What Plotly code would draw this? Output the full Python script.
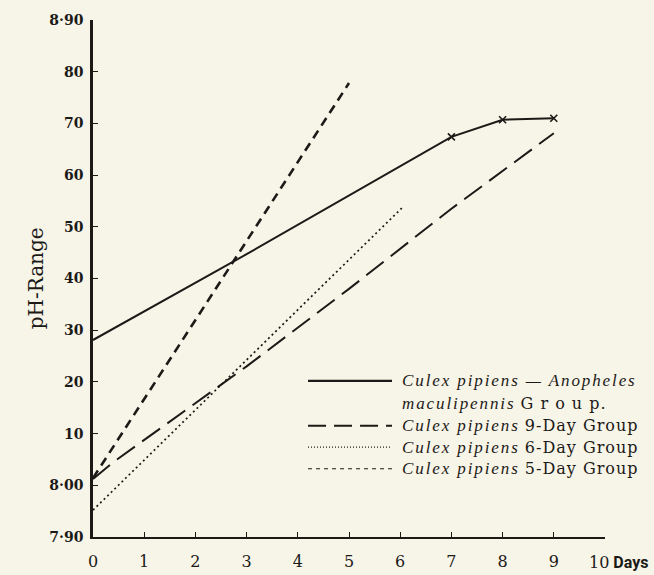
import plotly.graph_objects as go

# pH readings per day for each mosquito group
days_anoph = [0, 3, 7, 8, 9]
ph_anoph = [8.281, 8.447, 8.674, 8.707, 8.710]
marked_days = [7, 8, 9]
marked_ph = [8.674, 8.707, 8.710]

days_9 = [0, 0.4, 3, 5, 7, 9]
ph_9 = [8.012, 8.045, 8.230, 8.380, 8.535, 8.681]

days_6 = [0, 6.05]
ph_6 = [7.952, 8.538]

days_5 = [0, 5.0]
ph_5 = [8.014, 8.778]

y_ticks = [7.90, 8.00, 8.10, 8.20, 8.30, 8.40, 8.50, 8.60, 8.70, 8.80, 8.90]
y_labels = ["7·90", "8·00", "10", "20", "30", "40", "50", "60", "70", "80", "8·90"]
x_ticks = list(range(0, 11))
x_labels = [str(d) for d in x_ticks[:-1]] + [""]   # "10" is drawn together with "Days"

ink = "#1c1a17"
paper_bg = "#f7f4e8"
serif = "DejaVu Serif, Liberation Serif, serif"
ital = ("<span style=\"font-family:'Liberation Serif';font-size:17px;"
        "letter-spacing:1.9px\"><i>{}</i></span>")
roman = "<span style=\"letter-spacing:1px\">{}</span>"

legend_rows = [
    ("solid", 2.2, ital.format("Culex pipiens — Anopheles")),
    (None, 0, ital.format("maculipennis") + " " + roman.format("G r o u p.")),
    ("longdash", 2.0, ital.format("Culex pipiens") + " " + roman.format("9-Day Group")),
    ("dot", 1.3, ital.format("Culex pipiens") + " " + roman.format("6-Day Group")),
    ("dash", 1.0, ital.format("Culex pipiens") + " " + roman.format("5-Day Group")),
]
legend_y = [0.302, 0.259, 0.215, 0.174, 0.132]

fig = go.Figure()
fig.add_trace(go.Scatter(x=days_anoph, y=ph_anoph, mode="lines",
                         line=dict(color=ink, width=2.0), showlegend=False))
fig.add_trace(go.Scatter(x=marked_days, y=marked_ph, mode="markers",
                         marker=dict(symbol="x-thin", size=7, color=ink,
                                     line=dict(color=ink, width=1.6)),
                         showlegend=False))
fig.add_trace(go.Scatter(x=days_9, y=ph_9, mode="lines",
                         line=dict(color=ink, width=2.0, dash="22px,9px"),
                         showlegend=False))
fig.add_trace(go.Scatter(x=days_6, y=ph_6, mode="lines",
                         line=dict(color=ink, width=1.7, dash="2px,3px"),
                         showlegend=False))
fig.add_trace(go.Scatter(x=days_5, y=ph_5, mode="lines",
                         line=dict(color=ink, width=2.6, dash="9px,6px"),
                         showlegend=False))

dash_map = {"solid": "solid", "longdash": "18px,8px", "dot": "1px,2px", "dash": "4px,4px"}
shapes = []
annotations = []
for (dash, width, text), yy in zip(legend_rows, legend_y):
    if dash is not None:
        shapes.append(dict(type="line", xref="paper", yref="paper",
                           x0=0.42, x1=0.584, y0=yy, y1=yy,
                           line=dict(color=ink, width=width, dash=dash_map[dash])))
    annotations.append(dict(xref="paper", yref="paper", x=0.6, y=yy,
                            xanchor="left", yanchor="middle", showarrow=False,
                            text=text, font=dict(family=serif, size=16, color=ink)))

annotations.append(dict(xref="paper", yref="paper", x=-0.139, y=0.5,
                        textangle=-90, showarrow=False, text="pH-Range",
                        font=dict(family=serif, size=20, color=ink)))
annotations.append(dict(xref="paper", yref="paper", x=1.088, y=-0.05,
                        xanchor="right", yanchor="middle", showarrow=False,
                        text=("<span style=\"font-family:'DejaVu Serif'\">10</span> "
                              "<b>Days</b>"),
                        font=dict(family="Liberation Sans Narrow, Roboto, sans-serif",
                                  size=16, color=ink)))

fig.update_layout(
    width=654, height=575,
    margin=dict(l=93, r=49, t=20, b=38),
    paper_bgcolor=paper_bg, plot_bgcolor=paper_bg,
    shapes=shapes, annotations=annotations,
    xaxis=dict(range=[0, 10], tickvals=x_ticks, ticktext=x_labels,
               showgrid=False, zeroline=False, showline=True, automargin=False,
               linecolor=ink, linewidth=2, ticks="inside", ticklen=5,
               tickcolor=ink, tickwidth=1, ticklabelstandoff=9,
               tickfont=dict(family=serif, size=16, color=ink)),
    yaxis=dict(range=[7.90, 8.90], tickvals=y_ticks, ticktext=y_labels,
               showgrid=False, zeroline=False, showline=True, automargin=False,
               linecolor=ink, linewidth=2.5, ticks="inside", ticklen=5,
               tickcolor=ink, tickwidth=1, ticklabelstandoff=4,
               tickfont=dict(family=serif, size=14, color=ink, weight="bold")),
)

fig.write_html("out.html")
